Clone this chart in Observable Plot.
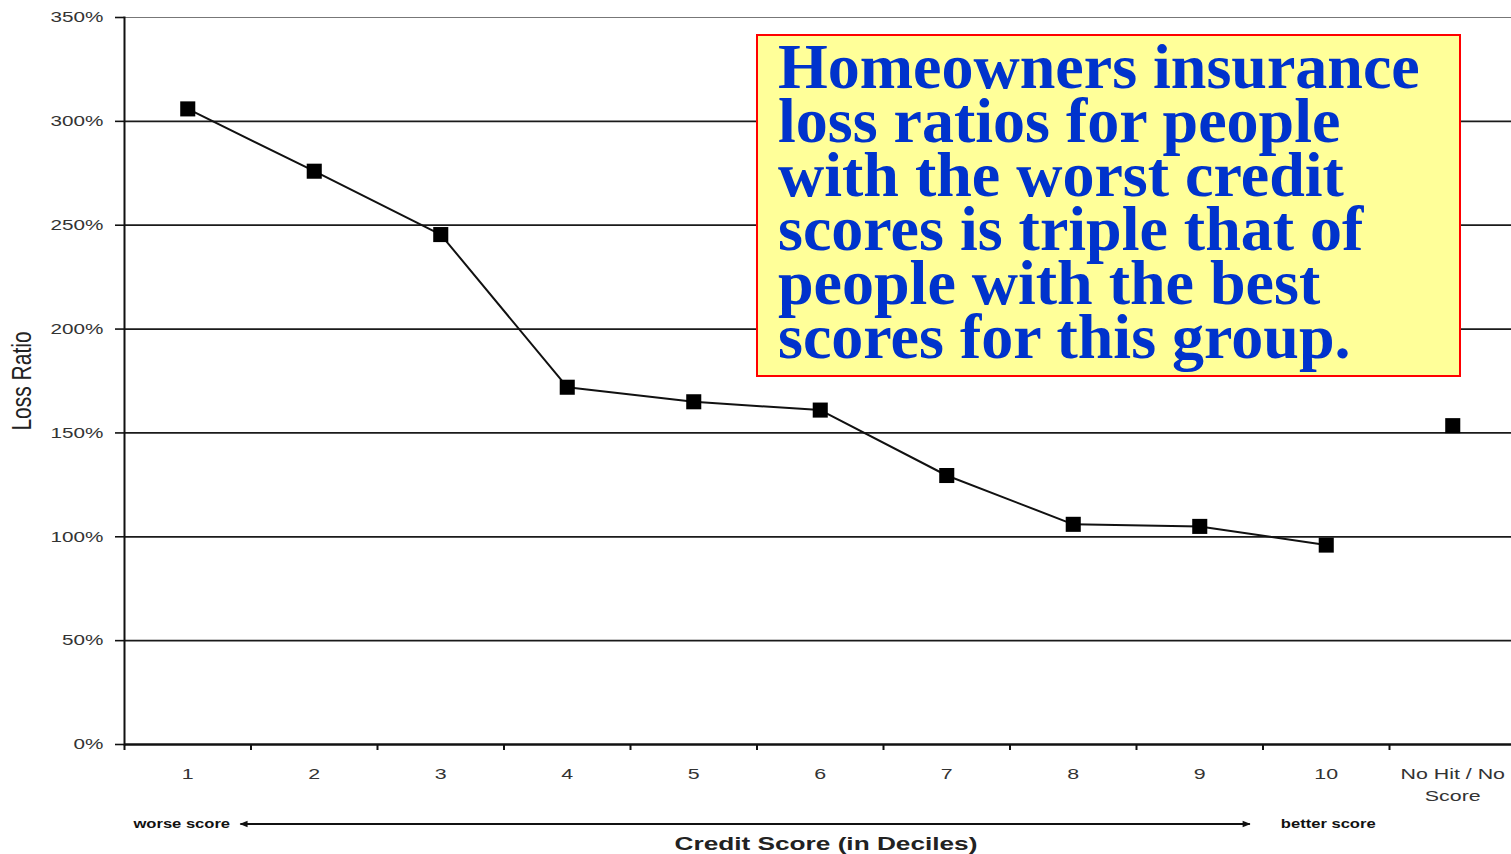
<!DOCTYPE html>
<html><head><meta charset="utf-8">
<script src="https://cdn.jsdelivr.net/npm/d3@7"></script>
<script src="https://cdn.jsdelivr.net/npm/@observablehq/plot@0.6"></script>
<style>
body{margin:0;background:#fff;}
#wrap{position:relative;width:1511px;height:854px;overflow:hidden;background:#fff;}
#wrap svg{position:absolute;left:0;top:0;}
#note{position:absolute;z-index:2;left:756px;top:34px;width:705px;height:343px;box-sizing:border-box;border:2px solid #ff0000;background:#ffff99;color:#0033cc;font-family:"Liberation Serif","Times New Roman",serif;font-weight:bold;font-size:64px;line-height:54px;padding:4px 0 0 20px;white-space:nowrap;}
</style></head><body>
<div id="wrap"><div id="note"></div></div>
<script>
// ---- data ----
const categories = ["1","2","3","4","5","6","7","8","9","10","No Hit / No Score"];
const tickLabels = ["1","2","3","4","5","6","7","8","9","10","No Hit / No\nScore"];
const lossRatios = [306, 276, 245.5, 172, 165, 161, 129.5, 106, 105, 96, 153.5];
const isDecile = [true,true,true,true,true,true,true,true,true,true,false];
const yTicks = [0, 50, 100, 150, 200, 250, 300, 350];
const yLabel = "Loss Ratio";
const xTitle = "Credit Score (in Deciles)";
const leftNote = "worse score";
const rightNote = "better score";
const noteLines = ["Homeowners insurance","loss ratios for people","with the worst credit","scores is triple that of","people with the best","scores for this group."];

// ---- table ----
const rows = categories.map((c, i) => ({cat: c, value: lossRatios[i], decile: isDecile[i]}));

const W = 1511, H = 854, ML = 124, MT = 17, MB = 110;
const xRange = [ML, 1515.5];
const bw = (xRange[1] - xRange[0]) / categories.length;
const axisFont = '"Liberation Sans", Arial, sans-serif';

const plot = Plot.plot({
  width: W, height: H,
  marginLeft: ML, marginTop: MT, marginBottom: MB, marginRight: 0,
  style: {fontFamily: axisFont, background: "transparent", overflow: "visible"},
  x: {type: "band", domain: categories, range: xRange, padding: 0, round: false},
  y: {domain: [0, 350]},
  marks: [
    Plot.ruleY(yTicks.filter(d => d > 0 && d < 350), {stroke: "#1a1a1a", strokeWidth: 1.7}),
    Plot.ruleY([350], {stroke: "#777", strokeWidth: 1.2}),
    Plot.ruleY([0], {stroke: "#111", strokeWidth: 2.5}),
    Plot.frame({anchor: "left", stroke: "#111", strokeWidth: 2}),
    Plot.axisY({ticks: yTicks, tickFormat: d => d + "%", tickSize: 9, tickPadding: 12,
      fontSize: 15, color: "#333", label: null, stroke: "#111", strokeWidth: 1.6}),
    Plot.axisX({tickSize: 0, tickPadding: 19, label: null,
      tickFormat: d => tickLabels[categories.indexOf(d)], fontSize: 15.5, lineHeight: 1.4, color: "#333"}),
    Plot.axisX({tickSize: 6, tickPadding: 0, label: null, tickFormat: () => "",
      dx: -bw / 2, stroke: "#111", strokeWidth: 2}),
    Plot.text([yLabel], {frameAnchor: "left", rotate: -90, dx: -102, textAnchor: "middle",
      lineAnchor: "middle", fontSize: 21, fill: "#222"}),
    Plot.text([leftNote], {x: () => categories[0], frameAnchor: "bottom", dy: 80, lineAnchor: "middle",
      textAnchor: "middle", dx: -6, fontSize: 12, fontWeight: "bold", fill: "#111"}),
    Plot.text([rightNote], {x: () => categories[9], frameAnchor: "bottom", dy: 80, lineAnchor: "middle",
      textAnchor: "middle", dx: 2, fontSize: 12, fontWeight: "bold", fill: "#111"}),
    Plot.text([xTitle], {frameAnchor: "bottom", dy: 99, dx: 8, lineAnchor: "middle",
      fontSize: 19, fontWeight: "bold", fill: "#222"}),
    Plot.line(rows.filter(d => d.decile), {x: "cat", y: "value", stroke: "#111", strokeWidth: 2}),
    Plot.dot(rows, {x: "cat", y: "value", symbol: "square", r: 8.5, fill: "#000", stroke: "none"})
  ]
});

// horizontal stretch of chart texts (the source chart's lettering is wide)
const SX = 1.38;
d3.select(plot).selectAll("text").each(function() {
  const t = d3.select(this);
  let tr = t.attr("transform");
  if (!tr) {
    const x = +(t.attr("x") || 0), y = +(t.attr("y") || 0);
    t.attr("x", null).attr("y", null);
    tr = `translate(${x},${y})`;
  }
  t.attr("transform", tr + (tr.includes("rotate") ? ` scale(1,${SX - 0.08})` : ` scale(${SX},1)`));
});

// double-headed arrow between the score notes
const xs = plot.scale("x");
const ys = plot.scale("y");
const svg = d3.select(plot);
const defs = svg.append("defs");
["start", "end"].forEach(k => {
  defs.append("marker").attr("id", "ah-" + k).attr("viewBox", "0 0 10 10")
    .attr("refX", k === "end" ? 9 : 1).attr("refY", 5)
    .attr("markerWidth", 11).attr("markerHeight", 8).attr("markerUnits", "userSpaceOnUse")
    .attr("orient", "auto")
    .append("path").attr("d", k === "end" ? "M0,1L10,5L0,9Z" : "M10,1L0,5L10,9Z").attr("fill", "#111");
});
const x0 = xs.apply(categories[0]) + 0.92 * bw;
const x1 = xs.apply(categories[9]) - 0.1 * bw;
const yArrow = ys.apply(0) + 80;
svg.append("line").attr("x1", x0).attr("x2", x1).attr("y1", yArrow).attr("y2", yArrow)
  .attr("stroke", "#111").attr("stroke-width", 2)
  .attr("marker-start", "url(#ah-start)").attr("marker-end", "url(#ah-end)");

const wrap = document.getElementById("wrap");
wrap.insertBefore(plot, wrap.firstChild);
document.getElementById("note").innerHTML = noteLines.map(s => `<div>${s}</div>`).join("");
</script>
</body></html>
